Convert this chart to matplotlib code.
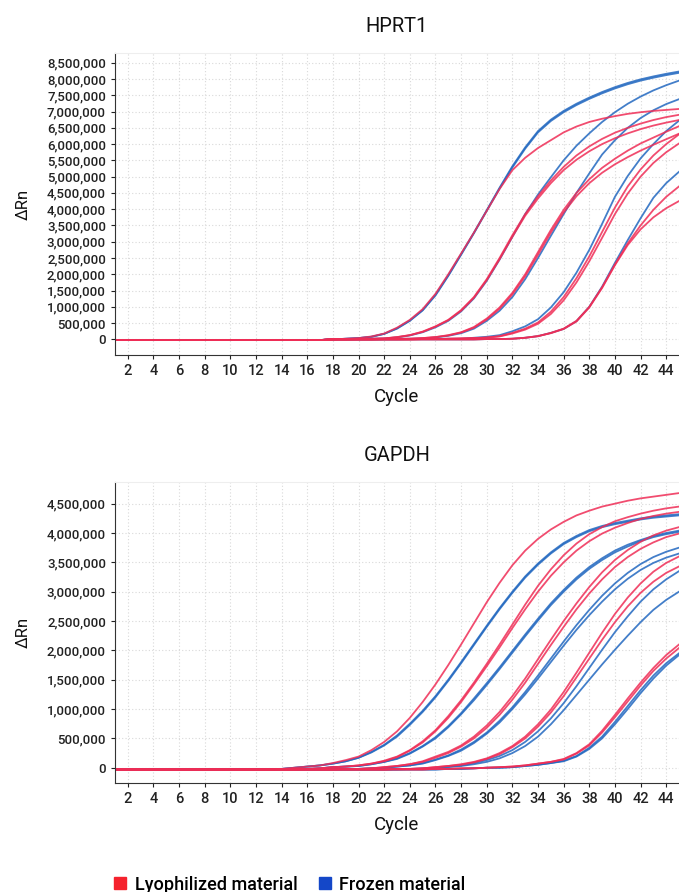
import matplotlib
matplotlib.use("Agg")
import matplotlib.pyplot as plt
from matplotlib.ticker import FuncFormatter, MultipleLocator
from matplotlib.lines import Line2D

plt.rcParams['font.family'] = ['Roboto', 'DejaVu Sans']
plt.rcParams['font.weight'] = 'medium'

cycles = list(range(1, 46))

# HPRT1, delta Rn in millions, cycles 18..45
hprt1_lyo_g1 = [0.0, 0.02, 0.04, 0.09, 0.18, 0.36, 0.6,
                0.93, 1.4, 2.0, 2.64, 3.28, 3.95, 4.62,
                5.2, 5.58, 5.88, 6.12, 6.36, 6.54, 6.68,
                6.78, 6.86, 6.93, 6.98, 7.02, 7.05, 7.08]
hprt1_frz_g1a = [0.0, 0.02, 0.04, 0.08, 0.17, 0.34, 0.58,
                 0.9, 1.37, 1.97, 2.62, 3.28, 3.97, 4.66,
                 5.32, 5.9, 6.4, 6.75, 7.02, 7.24, 7.43,
                 7.6, 7.75, 7.88, 7.99, 8.08, 8.16, 8.23]
hprt1_frz_g1b = [0.0, 0.02, 0.04, 0.08, 0.17, 0.33, 0.57,
                 0.89, 1.35, 1.95, 2.6, 3.26, 3.95, 4.63,
                 5.28, 5.86, 6.36, 6.71, 6.98, 7.2, 7.39,
                 7.56, 7.71, 7.84, 7.95, 8.04, 8.12, 8.19]
hprt1_lyo_g2a = [0.0, 0.0, 0.01, 0.02, 0.03, 0.07, 0.13,
                 0.24, 0.4, 0.6, 0.9, 1.3, 1.85, 2.5,
                 3.2, 3.85, 4.4, 4.88, 5.3, 5.65, 5.93,
                 6.16, 6.35, 6.5, 6.63, 6.74, 6.83, 6.9]
hprt1_lyo_g2b = [0.0, 0.0, 0.01, 0.02, 0.03, 0.07, 0.13,
                 0.23, 0.39, 0.59, 0.88, 1.28, 1.82, 2.46,
                 3.15, 3.8, 4.33, 4.8, 5.2, 5.52, 5.78,
                 6.0, 6.18, 6.33, 6.46, 6.57, 6.66, 6.74]
hprt1_frz_g2 = [0.0, 0.0, 0.01, 0.02, 0.03, 0.06, 0.12,
                0.22, 0.37, 0.57, 0.86, 1.26, 1.8, 2.45,
                3.15, 3.85, 4.45, 4.98, 5.5, 5.95, 6.33,
                6.68, 6.98, 7.24, 7.46, 7.65, 7.81, 7.95]
hprt1_lyo_g3a = [0.0, 0.0, 0.0, 0.0, 0.01, 0.02, 0.02,
                 0.04, 0.07, 0.13, 0.22, 0.38, 0.64, 0.98,
                 1.43, 2.0, 2.68, 3.36, 3.98, 4.5, 4.92,
                 5.27, 5.55, 5.8, 6.02, 6.2, 6.38, 6.55]
hprt1_lyo_g3b = [0.0, 0.0, 0.0, 0.0, 0.01, 0.02, 0.02,
                 0.04, 0.07, 0.12, 0.21, 0.36, 0.61, 0.94,
                 1.38, 1.94, 2.6, 3.28, 3.9, 4.4, 4.8,
                 5.12, 5.38, 5.6, 5.8, 5.98, 6.15, 6.32]
hprt1_frz_g3 = [0.0, 0.0, 0.0, 0.0, 0.01, 0.01, 0.02,
                0.03, 0.06, 0.11, 0.19, 0.33, 0.57, 0.88,
                1.3, 1.85, 2.5, 3.18, 3.85, 4.5, 5.1,
                5.68, 6.12, 6.5, 6.8, 7.04, 7.23, 7.38]
hprt1_frz_g4 = [0.0, 0.0, 0.0, 0.0, 0.0, 0.0, 0.01,
                0.01, 0.01, 0.02, 0.02, 0.05, 0.08, 0.13,
                0.25, 0.4, 0.62, 0.98, 1.45, 2.05, 2.75,
                3.55, 4.38, 5.02, 5.56, 6.0, 6.4, 6.72]
hprt1_lyo_g4a = [0.0, 0.0, 0.0, 0.0, 0.0, 0.0, 0.0,
                 0.01, 0.01, 0.02, 0.03, 0.04, 0.06, 0.1,
                 0.2, 0.33, 0.52, 0.85, 1.3, 1.88, 2.55,
                 3.3, 4.05, 4.7, 5.22, 5.65, 6.0, 6.3]
hprt1_lyo_g4b = [0.0, 0.0, 0.0, 0.0, 0.0, 0.0, 0.0,
                 0.01, 0.01, 0.02, 0.03, 0.04, 0.05, 0.09,
                 0.18, 0.3, 0.48, 0.78, 1.2, 1.75, 2.4,
                 3.12, 3.85, 4.48, 5.0, 5.42, 5.75, 6.02]
hprt1_frz_g5 = [0.0, 0.0, 0.0, 0.0, 0.0, 0.0, 0.0,
                0.0, 0.0, 0.0, 0.0, 0.0, 0.01, 0.01,
                0.02, 0.05, 0.1, 0.2, 0.32, 0.56, 1.0,
                1.62, 2.35, 3.05, 3.72, 4.35, 4.8, 5.15]
hprt1_lyo_g5a = [0.0, 0.0, 0.0, 0.0, 0.0, 0.0, 0.0,
                 0.0, 0.0, 0.0, 0.0, 0.0, 0.01, 0.01,
                 0.02, 0.05, 0.1, 0.2, 0.33, 0.57, 1.0,
                 1.6, 2.3, 2.95, 3.5, 3.98, 4.38, 4.7]
hprt1_lyo_g5b = [0.0, 0.0, 0.0, 0.0, 0.0, 0.0, 0.0,
                 0.0, 0.0, 0.0, 0.0, 0.0, 0.01, 0.01,
                 0.02, 0.05, 0.1, 0.19, 0.32, 0.55, 0.98,
                 1.58, 2.28, 2.9, 3.38, 3.75, 4.03, 4.25]

# GAPDH, delta Rn in millions, cycles 14..45
gapdh_lyo_g1 = [-0.02, 0.0, 0.02, 0.04, 0.08, 0.13, 0.19, 0.3,
                0.44, 0.62, 0.85, 1.12, 1.42, 1.75, 2.1, 2.46,
                2.82, 3.15, 3.45, 3.7, 3.9, 4.06, 4.19, 4.3,
                4.38, 4.45, 4.5, 4.55, 4.59, 4.62, 4.65, 4.68]
gapdh_frz_g1a = [-0.02, 0.0, 0.02, 0.04, 0.07, 0.11, 0.17, 0.27,
                 0.39, 0.55, 0.75, 0.97, 1.22, 1.5, 1.8, 2.11,
                 2.42, 2.72, 3.0, 3.26, 3.48, 3.67, 3.83, 3.95,
                 4.05, 4.12, 4.17, 4.21, 4.25, 4.28, 4.3, 4.32]
gapdh_frz_g1b = [-0.02, 0.0, 0.02, 0.04, 0.07, 0.11, 0.17, 0.26,
                 0.38, 0.53, 0.73, 0.95, 1.2, 1.48, 1.78, 2.09,
                 2.4, 2.7, 2.98, 3.24, 3.46, 3.65, 3.81, 3.93,
                 4.03, 4.1, 4.15, 4.19, 4.23, 4.26, 4.28, 4.3]
gapdh_lyo_g2a = [-0.03, -0.03, -0.02, -0.01, 0.01, 0.02, 0.04, 0.07,
                 0.12, 0.19, 0.3, 0.45, 0.64, 0.88, 1.15, 1.45,
                 1.77, 2.1, 2.44, 2.78, 3.1, 3.38, 3.62, 3.82,
                 3.98, 4.1, 4.2, 4.27, 4.33, 4.38, 4.42, 4.45]
gapdh_lyo_g2b = [-0.03, -0.03, -0.02, -0.01, 0.01, 0.02, 0.04, 0.07,
                 0.11, 0.18, 0.29, 0.43, 0.62, 0.85, 1.12, 1.42,
                 1.73, 2.05, 2.38, 2.7, 3.0, 3.27, 3.5, 3.7,
                 3.86, 3.99, 4.09, 4.17, 4.24, 4.29, 4.33, 4.36]
gapdh_frz_g2a = [-0.03, -0.03, -0.02, -0.01, 0.01, 0.02, 0.03, 0.06,
                 0.1, 0.16, 0.25, 0.37, 0.52, 0.71, 0.93, 1.18,
                 1.44, 1.71, 1.99, 2.27, 2.54, 2.8, 3.03, 3.24,
                 3.42, 3.57, 3.7, 3.8, 3.88, 3.95, 4.0, 4.04]
gapdh_frz_g2b = [-0.03, -0.03, -0.02, -0.01, 0.01, 0.02, 0.03, 0.06,
                 0.1, 0.15, 0.24, 0.36, 0.5, 0.69, 0.91, 1.15,
                 1.41, 1.68, 1.96, 2.24, 2.51, 2.77, 3.0, 3.21,
                 3.39, 3.54, 3.67, 3.77, 3.86, 3.93, 3.98, 4.02]
gapdh_lyo_g3a = [-0.03, -0.03, -0.03, -0.03, -0.03, -0.02, -0.02, -0.01,
                 0.01, 0.03, 0.06, 0.11, 0.19, 0.27, 0.38, 0.53,
                 0.72, 0.95, 1.22, 1.52, 1.85, 2.18, 2.5, 2.8,
                 3.08, 3.33, 3.54, 3.71, 3.85, 3.96, 4.04, 4.1]
gapdh_lyo_g3b = [-0.03, -0.03, -0.03, -0.03, -0.03, -0.02, -0.02, -0.01,
                 0.01, 0.03, 0.06, 0.1, 0.17, 0.25, 0.36, 0.5,
                 0.68, 0.9, 1.16, 1.45, 1.77, 2.09, 2.4, 2.7,
                 2.97, 3.21, 3.42, 3.59, 3.73, 3.84, 3.93, 3.99]
gapdh_frz_g3a = [-0.03, -0.03, -0.03, -0.03, -0.03, -0.02, -0.02, -0.01,
                 0.0, 0.02, 0.04, 0.08, 0.14, 0.21, 0.31, 0.44,
                 0.6, 0.8, 1.03, 1.29, 1.57, 1.86, 2.15, 2.43,
                 2.69, 2.93, 3.14, 3.32, 3.47, 3.59, 3.68, 3.75]
gapdh_frz_g3b = [-0.03, -0.03, -0.03, -0.03, -0.03, -0.02, -0.02, -0.01,
                 0.0, 0.02, 0.04, 0.07, 0.13, 0.2, 0.29, 0.42,
                 0.58, 0.77, 1.0, 1.25, 1.52, 1.8, 2.08, 2.35,
                 2.6, 2.83, 3.04, 3.22, 3.37, 3.49, 3.58, 3.65]
gapdh_lyo_g4a = [-0.03, -0.03, -0.03, -0.03, -0.03, -0.03, -0.03, -0.03,
                 -0.03, -0.02, -0.02, -0.01, 0.01, 0.03, 0.06, 0.1,
                 0.16, 0.25, 0.37, 0.53, 0.74, 0.99, 1.29, 1.62,
                 1.96, 2.3, 2.62, 2.9, 3.14, 3.34, 3.49, 3.6]
gapdh_lyo_g4b = [-0.03, -0.03, -0.03, -0.03, -0.03, -0.03, -0.03, -0.03,
                 -0.03, -0.02, -0.02, -0.01, 0.01, 0.03, 0.05, 0.09,
                 0.15, 0.23, 0.35, 0.5, 0.7, 0.94, 1.22, 1.54,
                 1.86, 2.18, 2.48, 2.75, 2.98, 3.17, 3.32, 3.43]
gapdh_frz_g4a = [-0.03, -0.03, -0.03, -0.03, -0.03, -0.03, -0.03, -0.03,
                 -0.03, -0.02, -0.02, -0.01, 0.0, 0.02, 0.04, 0.08,
                 0.13, 0.2, 0.3, 0.44, 0.62, 0.84, 1.1, 1.39,
                 1.7, 2.01, 2.31, 2.58, 2.83, 3.04, 3.21, 3.35]
gapdh_frz_g4b = [-0.03, -0.03, -0.03, -0.03, -0.03, -0.03, -0.03, -0.03,
                 -0.03, -0.03, -0.02, -0.02, -0.01, 0.01, 0.03, 0.06,
                 0.1, 0.16, 0.25, 0.37, 0.53, 0.74, 0.98, 1.24,
                 1.5, 1.76, 2.01, 2.25, 2.48, 2.69, 2.86, 3.0]
gapdh_lyo_g5a = [-0.03, -0.03, -0.03, -0.03, -0.03, -0.03, -0.03, -0.03,
                 -0.03, -0.03, -0.03, -0.03, -0.02, -0.02, -0.01, -0.01,
                 0.0, 0.01, 0.02, 0.04, 0.07, 0.1, 0.15, 0.25,
                 0.4, 0.63, 0.9, 1.18, 1.45, 1.7, 1.92, 2.1]
gapdh_lyo_g5b = [-0.03, -0.03, -0.03, -0.03, -0.03, -0.03, -0.03, -0.03,
                 -0.03, -0.03, -0.03, -0.03, -0.02, -0.02, -0.01, -0.01,
                 0.0, 0.01, 0.02, 0.04, 0.07, 0.1, 0.14, 0.24,
                 0.38, 0.6, 0.86, 1.13, 1.4, 1.65, 1.86, 2.04]
gapdh_frz_g5a = [-0.03, -0.03, -0.03, -0.03, -0.03, -0.03, -0.03, -0.03,
                 -0.03, -0.03, -0.03, -0.03, -0.03, -0.02, -0.02, -0.01,
                 0.0, 0.0, 0.01, 0.03, 0.05, 0.08, 0.12, 0.2,
                 0.34, 0.53, 0.78, 1.05, 1.32, 1.57, 1.78, 1.95]
gapdh_frz_g5b = [-0.03, -0.03, -0.03, -0.03, -0.03, -0.03, -0.03, -0.03,
                 -0.03, -0.03, -0.03, -0.03, -0.03, -0.02, -0.02, -0.01,
                 0.0, 0.0, 0.01, 0.03, 0.05, 0.08, 0.11, 0.19,
                 0.32, 0.5, 0.74, 1.0, 1.27, 1.52, 1.74, 1.92]

hprt1_lyo = [hprt1_lyo_g1, hprt1_lyo_g2a, hprt1_lyo_g2b, hprt1_lyo_g3a, hprt1_lyo_g3b,
             hprt1_lyo_g4a, hprt1_lyo_g4b, hprt1_lyo_g5a, hprt1_lyo_g5b]
hprt1_frz = [hprt1_frz_g1a, hprt1_frz_g1b, hprt1_frz_g2, hprt1_frz_g3,
             hprt1_frz_g4, hprt1_frz_g5]
gapdh_lyo = [gapdh_lyo_g1, gapdh_lyo_g2a, gapdh_lyo_g2b, gapdh_lyo_g3a, gapdh_lyo_g3b,
             gapdh_lyo_g4a, gapdh_lyo_g4b, gapdh_lyo_g5a, gapdh_lyo_g5b]
gapdh_frz = [gapdh_frz_g1a, gapdh_frz_g1b, gapdh_frz_g2a, gapdh_frz_g2b, gapdh_frz_g3a,
             gapdh_frz_g3b, gapdh_frz_g4a, gapdh_frz_g4b, gapdh_frz_g5a, gapdh_frz_g5b]

RED = '#ef2d56'
BLUE = '#2268c0'


def full(vals, base):
    # pad the flat baseline in front of the read-off values
    return [base] * (len(cycles) - len(vals)) + vals


def draw(ax, title, lyo, frz, base, ymax, ymin):
    for y in frz:
        ax.plot(cycles, [v * 1e6 for v in full(y, base)], color=BLUE, lw=1.3, alpha=0.85)
    for y in lyo:
        ax.plot(cycles, [v * 1e6 for v in full(y, base)], color=RED, lw=1.3, alpha=0.85)
    ax.set_xlim(1, 45)
    ax.set_ylim(ymin * 1e6, ymax * 1e6)
    ax.xaxis.set_major_locator(MultipleLocator(2))
    ax.yaxis.set_major_locator(MultipleLocator(500000))
    ax.yaxis.set_major_formatter(FuncFormatter(lambda v, p: '{:,.0f}'.format(v)))
    ax.grid(True, color='#d9d9d9', lw=0.8, linestyle=(0, (1, 2)))
    ax.set_axisbelow(True)
    ax.spines['right'].set_visible(False)
    ax.spines['top'].set_color('#eeeeee')
    ax.spines['left'].set_color('#333333')
    ax.spines['bottom'].set_color('#333333')
    ax.tick_params(axis='y', length=3, labelsize=9.5, colors='#222222')
    ax.tick_params(axis='x', length=3, labelsize=10.5, colors='#222222')
    ax.set_title(title, fontsize=14.5, pad=15, color='#111111')
    ax.set_xlabel('Cycle', fontsize=13.5, color='#111111')
    ax.set_ylabel('ΔRn', fontsize=12, color='#111111')
    ax.xaxis.set_label_coords(0.5, -0.11)
    ax.yaxis.set_label_coords(-0.15, 0.5)


fig = plt.figure(figsize=(6.79, 8.92), dpi=100)
ax1 = fig.add_axes([0.1694, 0.602, 0.8306, 0.3386])
ax2 = fig.add_axes([0.1694, 0.1222, 0.8306, 0.3375])

draw(ax1, 'HPRT1', hprt1_lyo, hprt1_frz, -0.02, 8.8, -0.48)
draw(ax2, 'GAPDH', gapdh_lyo, gapdh_frz, -0.03, 4.87, -0.26)

handles = [Line2D([], [], marker='s', ls='', color='#f5222d', markersize=8),
           Line2D([], [], marker='s', ls='', color='#1447c8', markersize=8)]
fig.legend(handles, ['Lyophilized material', 'Frozen material'], loc='lower left',
           bbox_to_anchor=(0.14, -0.02), ncol=2, frameon=False, fontsize=13,
           handletextpad=0.3, columnspacing=1.0, handlelength=1.0)

fig.savefig('out.png', dpi=100)
